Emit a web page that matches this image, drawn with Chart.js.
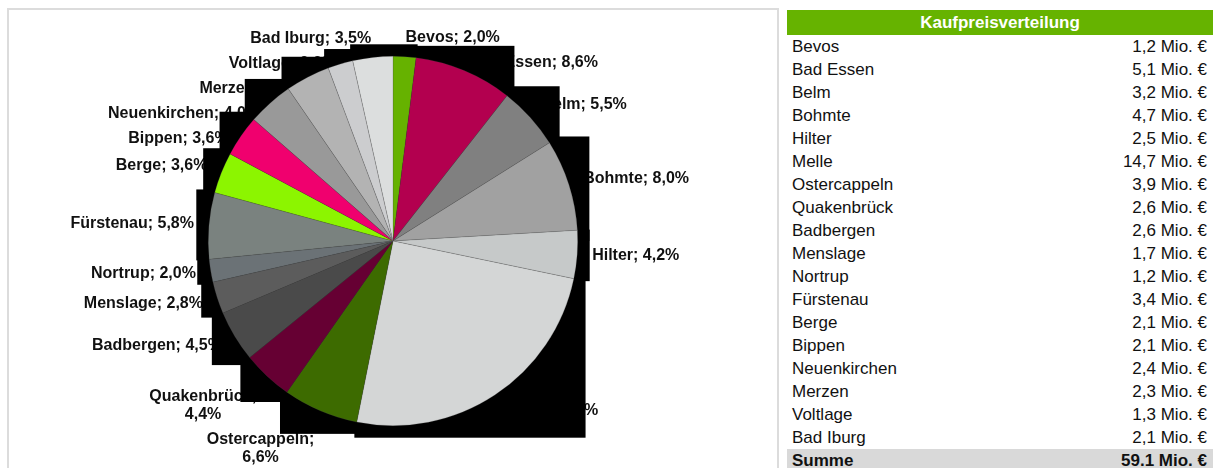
<!DOCTYPE html>
<html>
<head>
<meta charset="utf-8">
<script src="https://cdn.jsdelivr.net/npm/chart.js@4"></script>
<style>
  body { margin: 0; background: #fff; font-family: "Liberation Sans", Arial, sans-serif; }
  #frame { position: absolute; left: 7px; top: 8px; width: 768px; height: 480px; border: 2px solid #dcdcdc; border-bottom: none; }
  #pie { position: absolute; left: 0; top: 0; }
  #table { position: absolute; left: 787px; top: 10px; width: 426px; font-size: 17px; color: #111; }
  #table .head { height: 25px; line-height: 25px; background: #66b300; color: #fff; font-weight: bold; text-align: center; }
  #table .row { height: 23px; line-height: 23px; display: flex; justify-content: space-between; padding: 0 6px 0 5px; }
  #table .sum { background: #d9d9d9; font-weight: bold; }
</style>
</head>
<body>
<div id="frame"></div>
<canvas id="pie" width="780" height="468"></canvas>
<div id="table"></div>
<script>
// Kaufpreisverteilung
const towns = ['Bevos', 'Bad Essen', 'Belm', 'Bohmte', 'Hilter', 'Melle', 'Ostercappeln', 'Quakenbrück', 'Badbergen',
  'Menslage', 'Nortrup', 'Fürstenau', 'Berge', 'Bippen', 'Neuenkirchen', 'Merzen', 'Voltlage', 'Bad Iburg'];
const shares = [2.0, 8.6, 5.5, 8.0, 4.2, 24.9, 6.6, 4.4, 4.5, 2.8, 2.0, 5.8, 3.6, 3.6, 4.0, 3.9, 2.2, 3.5];
const prices = [1.2, 5.1, 3.2, 4.7, 2.5, 14.7, 3.9, 2.6, 2.6, 1.7, 1.2, 3.4, 2.1, 2.1, 2.4, 2.3, 1.3, 2.1];
const sliceColors = ['#66b200', '#b3004f', '#808080', '#a1a1a1', '#c6c9c9', '#d4d6d6', '#3d6b00', '#660033', '#4a4a4a',
  '#5c5c5c', '#6b7276', '#7a827f', '#8cf500', '#f0006e', '#999999', '#b3b3b3', '#cccdcf', '#dcdede'];

const de = v => v.toFixed(1).replace('.', ',');

// table on the right
const table = document.getElementById('table');
let html = '<div class="head">Kaufpreisverteilung</div>';
towns.forEach((t, i) => {
  html += `<div class="row"><span>${t}</span><span>${de(prices[i])} Mio. €</span></div>`;
});
const total = prices.reduce((a, b) => a + b, 0);
html += `<div class="row sum"><span>Summe</span><span>${total.toFixed(1)} Mio. €</span></div>`;
table.innerHTML = html;

// labels + the black stepped backdrop behind the slices
const shadowAndLabels = {
  id: 'shadowAndLabels',
  beforeDatasetsDraw(chart) {
    const ctx = chart.ctx;
    const arcs = chart.getDatasetMeta(0).data;
    ctx.save();
    ctx.font = 'bold 16px "Liberation Sans", Arial, sans-serif';
    ctx.fillStyle = '#111';
    ctx.textBaseline = 'middle';

    // place every label outside its slice
    const boxes = arcs.map((arc, i) => {
      const p = arc.getProps(['x', 'y', 'startAngle', 'endAngle', 'outerRadius'], true);
      const mid = (p.startAngle + p.endAngle) / 2;
      const r = p.outerRadius + 15;
      const ax = p.x + r * Math.cos(mid);
      const ay = p.y + r * Math.sin(mid);
      const left = Math.cos(mid) < 0;
      let lines, h, yc;
      if (left && Math.sin(mid) > 0.7) {
        lines = [towns[i] + ';', de(shares[i]) + '%'];
        h = 36; yc = ay + 18;
      } else {
        lines = [towns[i] + '; ' + de(shares[i]) + '%'];
        h = 18; yc = ay + Math.sin(mid) * 4;
      }
      const w = Math.max(...lines.map(l => ctx.measureText(l).width));
      const x0 = left ? ax - w : ax;
      return { lines, left, x0, x1: x0 + w, w, h, yc };
    });

    // push overlapping labels down, each side on its own
    [true, false].forEach(side => {
      const list = boxes.filter(b => b.left === side).sort((a, b) => a.yc - b.yc);
      for (let k = 1; k < list.length; k++) {
        for (let j = 0; j < k; j++) {
          const a = list[j], b = list[k];
          const need = (a.h + b.h) / 2 + 7;
          if (a.x0 < b.x1 && b.x0 < a.x1 && b.yc - a.yc < need) b.yc = a.yc + need;
        }
      }
    });

    boxes.forEach(b => {
      if (b.lines.length > 1) {
        ctx.textAlign = 'center';
        b.lines.forEach((l, k) => ctx.fillText(l, b.x0 + b.w / 2, b.yc - 9 + k * 18));
      } else {
        ctx.textAlign = 'left';
        ctx.fillText(b.lines[0], b.x0, b.yc);
      }
    });

    ctx.fillStyle = '#000';
    arcs.forEach(arc => {
      const p = arc.getProps(['x', 'y', 'startAngle', 'endAngle', 'outerRadius'], true);
      const R = p.outerRadius + 12;
      const angs = [p.startAngle, p.endAngle];
      for (let k = -4; k <= 8; k++) {
        const a = k * Math.PI / 2;
        if (a > p.startAngle && a < p.endAngle) angs.push(a);
      }
      const xs = [p.x], ys = [p.y];
      angs.forEach(a => { xs.push(p.x + R * Math.cos(a)); ys.push(p.y + R * Math.sin(a)); });
      const x0 = Math.min(...xs), x1 = Math.max(...xs);
      const y0 = Math.min(...ys), y1 = Math.max(...ys);
      ctx.fillRect(x0, y0, x1 - x0, y1 - y0);
    });
    ctx.restore();
  }
};

new Chart(document.getElementById('pie'), {
  type: 'pie',
  data: {
    labels: towns,
    datasets: [{
      data: shares,
      backgroundColor: sliceColors,
      borderColor: 'rgba(70,70,70,0.35)',
      borderWidth: 0.6
    }]
  },
  options: {
    responsive: false,
    animation: false,
    layout: { padding: { left: 208, right: 202, top: 56, bottom: 42 } },
    plugins: { legend: { display: false }, tooltip: { enabled: false } }
  },
  plugins: [shadowAndLabels]
});
</script>
</body>
</html>
